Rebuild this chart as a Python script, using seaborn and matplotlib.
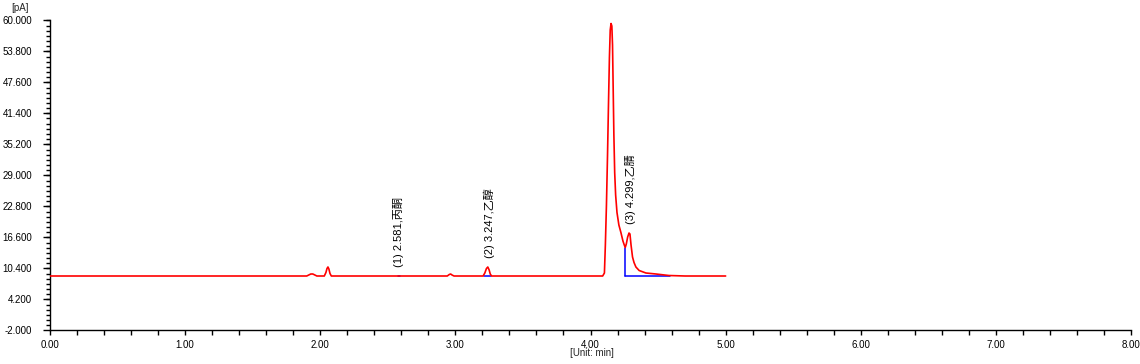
import matplotlib
matplotlib.use("Agg")
import matplotlib.pyplot as plt
import seaborn as sns
import numpy as np
from matplotlib.ticker import MultipleLocator, FixedLocator, FormatStrFormatter

# ---------------- data ----------------
time_min = [0.00, 1.90, 1.915, 1.93, 1.945, 1.96, 1.975, 2.03, 2.042, 2.05, 2.057, 2.064,
            2.072, 2.082, 2.94, 2.955, 2.965, 2.975, 2.99, 3.205, 3.218, 3.23, 3.24,
            3.25, 3.258, 3.268, 4.09, 4.103, 4.110, 4.118, 4.126, 4.133, 4.140, 4.146,
            4.152, 4.158, 4.163, 4.168, 4.173, 4.179, 4.186, 4.196, 4.21, 4.225, 4.24,
            4.25, 4.257, 4.265, 4.275, 4.285, 4.292, 4.30, 4.311, 4.322, 4.336, 4.36,
            4.41, 4.484, 4.58, 4.70, 5.00]
signal_pA = [8.8, 8.8, 9.0, 9.2, 9.2, 9.0, 8.8, 8.8, 9.5, 10.3, 10.6, 10.2,
             9.3, 8.8, 8.8, 9.1, 9.2, 9.0, 8.8, 8.8, 9.4, 10.3, 10.6,
             10.0, 9.2, 8.8, 8.8, 9.4, 15.0, 23.0, 33.0, 43.0, 52.5, 58.0,
             59.3, 58.8, 55.0, 46.0, 37.0, 29.5, 25.0, 21.5, 19.0, 17.5, 15.8,
             15.0, 14.5, 15.2, 16.6, 17.4, 17.2, 15.0, 12.6, 11.5, 10.6, 9.9,
             9.4, 9.2, 8.9, 8.8, 8.8]

peak_labels = ["(1) 2.581,丙酮", "(2) 3.247,乙醇", "(3) 4.299,乙腈"]
peak_times = [2.581, 3.247, 4.299]
peak_apex = [8.8, 10.6, 17.4]

# integration baselines (start, end, level) and drop line for peak 3
base_start = [2.576, 3.212, 4.257]
base_end = [2.590, 3.262, 4.590]
base_level = [8.75, 8.75, 8.75]
drop_time = [4.257, 4.257]
drop_level = [8.75, 14.5]

y_ticks = [-2.0, 4.2, 10.4, 16.6, 22.8, 29.0, 35.2, 41.4, 47.6, 53.8, 60.0]
x_ticks = [0.0, 1.0, 2.0, 3.0, 4.0, 5.0, 6.0, 7.0, 8.0]

# ---------------- plot ----------------
sns.set_theme(style="ticks")
plt.rcParams["font.family"] = ["Liberation Sans", "Noto Sans CJK SC", "DejaVu Sans"]

fig = plt.figure(figsize=(11.4, 3.64), dpi=100)
ax = fig.add_axes([50 / 1140, 34 / 364, 1081 / 1140, 310 / 364])

sns.lineplot(x=time_min, y=signal_pA, color="#FF0000", linewidth=1.2,
             estimator=None, sort=False, ax=ax, zorder=3)

for s, e, lv in zip(base_start, base_end, base_level):
    sns.lineplot(x=[s, e], y=[lv, lv], color="#0000FF", linewidth=1.1,
                 estimator=None, sort=False, ax=ax, zorder=2)
sns.lineplot(x=drop_time, y=drop_level, color="#0000FF", linewidth=1.1,
             estimator=None, sort=False, ax=ax, zorder=2)

for lab, t, a in zip(peak_labels, peak_times, peak_apex):
    ax.annotate(lab, xy=(t, a), xytext=(0, 6.5), textcoords="offset points",
                rotation=90, ha="center", va="bottom", fontsize=8, color="black")

ax.set_xlim(0, 8)
ax.set_ylim(-2, 60)
ax.xaxis.set_major_locator(FixedLocator(x_ticks))
ax.xaxis.set_minor_locator(MultipleLocator(0.2))
ax.yaxis.set_major_locator(FixedLocator(y_ticks))
ax.yaxis.set_minor_locator(MultipleLocator(6.2 / 6))
ax.xaxis.set_major_formatter(FormatStrFormatter("%.2f"))
ax.yaxis.set_major_formatter(FormatStrFormatter("%.3f"))

ax.tick_params(axis="y", which="major", length=5, width=1, pad=8, labelsize=7,
               color="black", labelcolor="black")
ax.tick_params(axis="y", which="minor", length=3, width=1, color="black")
ax.tick_params(axis="x", which="both", length=3.5, width=1, pad=3.5, labelsize=7,
               color="black", labelcolor="black")

for side in ["top", "right"]:
    ax.spines[side].set_visible(False)
for side in ["left", "bottom"]:
    ax.spines[side].set_color("black")
    ax.spines[side].set_linewidth(1)

ax.set_xlabel("")
ax.set_ylabel("")
fig.text(20 / 1140, 1 - 8 / 364, "[pA]", ha="center", va="center", fontsize=7)
fig.text(592 / 1140, 1 - 353 / 364, "[Unit: min]", ha="center", va="center", fontsize=7)

fig.savefig("out.png", dpi=100, facecolor="white")
